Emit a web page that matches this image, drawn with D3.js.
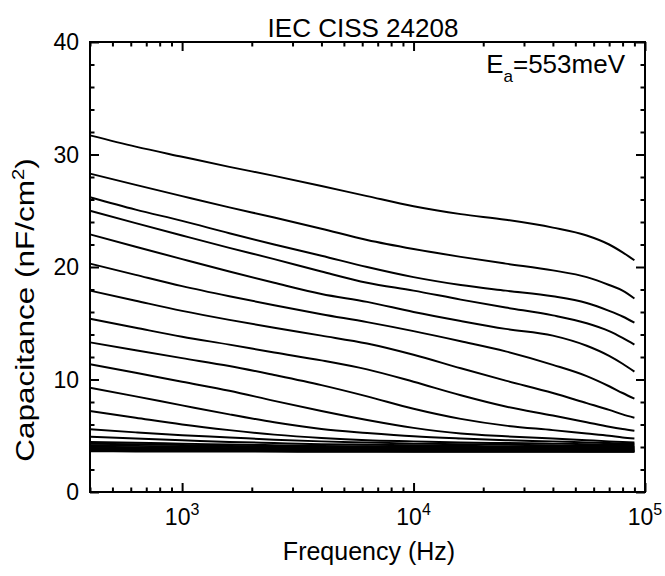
<!DOCTYPE html>
<html>
<head>
<meta charset="utf-8">
<script src="https://cdn.jsdelivr.net/npm/d3@7"></script>
<style>
  body { margin: 0; background: #fff; }
  text { font-family: 'Liberation Sans', Arial, sans-serif; fill: #000; }
</style>
</head>
<body>
<svg id="chart" width="665" height="576"></svg>
<script>
// frequency points (Hz) shared by every curve
const freqHz = [400, 630, 1000, 1600, 2500, 4000, 6300, 10000, 16000, 25000, 40000, 56000, 70000, 80000, 90000]

// capacitance (nF/cm2), one curve per measurement, top to bottom
const curve01 = [31.7, 30.7, 29.8, 28.9, 28.1, 27.2, 26.3, 25.4, 24.7, 24.2, 23.5, 22.8, 22.0, 21.3, 20.6]
const curve02 = [28.3, 27.3, 26.3, 25.3, 24.4, 23.4, 22.4, 21.6, 20.9, 20.3, 19.7, 19.1, 18.4, 17.9, 17.2]
const curve03 = [26.2, 25.1, 24.1, 23.0, 22.0, 21.0, 20.0, 19.1, 18.4, 17.9, 17.4, 16.8, 16.1, 15.6, 15.05]
const curve04 = [25.0, 23.9, 22.8, 21.7, 20.7, 19.6, 18.6, 17.9, 17.1, 16.4, 15.7, 15.0, 14.3, 13.7, 13.1]
const curve05 = [22.9, 21.8, 20.7, 19.6, 18.6, 17.6, 16.9, 16.0, 15.2, 14.5, 13.9, 13.0, 12.1, 11.4, 10.7]
const curve06 = [20.3, 19.3, 18.3, 17.4, 16.6, 15.8, 15.1, 14.3, 13.4, 12.5, 11.3, 10.3, 9.4, 8.8, 8.3]
const curve07 = [17.9, 17.0, 16.1, 15.3, 14.6, 13.9, 13.2, 12.2, 11.0, 9.9, 8.8, 7.9, 7.3, 6.9, 6.6]
const curve08 = [15.4, 14.6, 13.8, 13.1, 12.4, 11.7, 10.9, 9.8, 8.6, 7.6, 6.8, 6.2, 5.8, 5.6, 5.45]
const curve09 = [13.3, 12.6, 11.9, 11.2, 10.4, 9.5, 8.5, 7.4, 6.5, 5.9, 5.5, 5.2, 5.0, 4.85, 4.75]
const curve10 = [11.35, 10.6, 9.8, 9.0, 8.1, 7.2, 6.4, 5.7, 5.2, 4.95, 4.75, 4.6, 4.5, 4.45, 4.4]
const curve11 = [9.27, 8.5, 7.7, 6.9, 6.2, 5.6, 5.25, 4.95, 4.75, 4.6, 4.5, 4.4, 4.35, 4.3, 4.3]
const curve12 = [7.2, 6.6, 6.0, 5.5, 5.1, 4.8, 4.6, 4.5, 4.4, 4.35, 4.3, 4.25, 4.2, 4.2, 4.2]
const curve13 = [5.57, 5.3, 5.05, 4.85, 4.65, 4.5, 4.4, 4.3, 4.25, 4.2, 4.15, 4.1, 4.1, 4.1, 4.1]
const curve14 = [4.92, 4.75, 4.6, 4.45, 4.35, 4.25, 4.2, 4.15, 4.1, 4.05, 4.05, 4.0, 4.0, 4.0, 4.0]
const curve15 = [4.45, 4.38, 4.3, 4.22, 4.16, 4.1, 4.06, 4.02, 4.0, 3.98, 3.96, 3.95, 3.95, 3.95, 3.95]
const curve16 = [4.3, 4.24, 4.17, 4.1, 4.05, 4.0, 3.97, 3.94, 3.92, 3.9, 3.89, 3.88, 3.88, 3.88, 3.88]
const curve17 = [4.15, 4.1, 4.05, 4.0, 3.96, 3.92, 3.89, 3.87, 3.85, 3.84, 3.83, 3.82, 3.82, 3.82, 3.82]
const curve18 = [4.02, 3.98, 3.94, 3.9, 3.87, 3.84, 3.82, 3.8, 3.79, 3.78, 3.77, 3.77, 3.77, 3.77, 3.77]
const curve19 = [3.92, 3.89, 3.86, 3.83, 3.8, 3.78, 3.76, 3.75, 3.74, 3.73, 3.72, 3.72, 3.72, 3.72, 3.72]
const curve20 = [3.83, 3.8, 3.78, 3.76, 3.74, 3.72, 3.71, 3.7, 3.69, 3.68, 3.68, 3.67, 3.67, 3.67, 3.67]
const curve21 = [3.75, 3.73, 3.71, 3.7, 3.68, 3.67, 3.66, 3.65, 3.65, 3.64, 3.64, 3.63, 3.63, 3.63, 3.63]
const curve22 = [3.68, 3.67, 3.65, 3.64, 3.63, 3.62, 3.62, 3.61, 3.61, 3.6, 3.6, 3.6, 3.6, 3.6, 3.6]
const curve23 = [3.62, 3.61, 3.6, 3.59, 3.59, 3.58, 3.58, 3.58, 3.57, 3.57, 3.57, 3.57, 3.57, 3.57, 3.57]

const curves = [curve01, curve02, curve03, curve04, curve05, curve06, curve07, curve08,
  curve09, curve10, curve11, curve12, curve13, curve14, curve15, curve16, curve17,
  curve18, curve19, curve20, curve21, curve22, curve23]

const xMajorTicks = [1e3, 1e4, 1e5]
const yMajorTicks = [0, 10, 20, 30, 40]
const titleText = 'IEC CISS 24208'

const svg = d3.select('#chart')
const plotLeft = 90
const plotRight = 645
const plotTop = 42
const plotBottom = 492

const x = d3.scaleLog().domain([400, 1e5]).range([plotLeft, plotRight])
const y = d3.scaleLinear().domain([0, 40]).range([plotBottom, plotTop])

const xMinorTicks = x.ticks().filter(function (d) { return xMajorTicks.indexOf(d) < 0 })
const yMinorTicks = d3.range(0, 41, 2).filter(function (d) { return d % 10 !== 0 })

// tick marks only, pointing inward on every side
function styleAxis (g) {
  g.select('.domain').remove()
  g.selectAll('.tick line').attr('stroke', '#000').attr('stroke-width', 2)
  g.selectAll('.tick text').remove()
}

const axes = [
  [d3.axisBottom(x), 'translate(0,' + plotBottom + ')', xMajorTicks, xMinorTicks],
  [d3.axisTop(x), 'translate(0,' + plotTop + ')', xMajorTicks, xMinorTicks],
  [d3.axisLeft(y), 'translate(' + plotLeft + ',0)', yMajorTicks, yMinorTicks],
  [d3.axisRight(y), 'translate(' + plotRight + ',0)', yMajorTicks, yMinorTicks]
]
axes.forEach(function (a) {
  [[a[2], 9], [a[3], 4.5]].forEach(function (t) {
    svg.append('g')
      .attr('transform', a[1])
      .call(a[0].tickValues(t[0]).tickSizeInner(-t[1]).tickSizeOuter(0).tickFormat(''))
      .call(styleAxis)
  })
})

// curves
const line = d3.line()
  .x(function (d) { return x(d[0]) })
  .y(function (d) { return y(d[1]) })
  .curve(d3.curveMonotoneX)

svg.append('g')
  .selectAll('path')
  .data(curves)
  .enter()
  .append('path')
  .attr('d', function (vals) { return line(freqHz.map(function (f, i) { return [f, vals[i]] })) })
  .attr('fill', 'none')
  .attr('stroke', '#000')
  .attr('stroke-width', 2)

// frame
svg.append('rect')
  .attr('x', plotLeft)
  .attr('y', plotTop)
  .attr('width', plotRight - plotLeft)
  .attr('height', plotBottom - plotTop)
  .attr('fill', 'none')
  .attr('stroke', '#000')
  .attr('stroke-width', 2)

// x tick labels 10^n
const xLab = svg.append('g')
  .selectAll('text')
  .data(xMajorTicks)
  .enter()
  .append('text')
  .attr('x', function (d) { return x(d) })
  .attr('y', 525)
  .attr('text-anchor', 'middle')
  .style('font-size', '23px')
xLab.append('tspan').text('10')
xLab.append('tspan')
  .attr('dy', -10)
  .style('font-size', '16px')
  .text(function (d) { return Math.round(Math.log10(d)) })

// y tick labels
svg.append('g')
  .selectAll('text')
  .data(yMajorTicks)
  .enter()
  .append('text')
  .attr('x', 79)
  .attr('y', function (d) { return y(d) })
  .attr('dy', '0.36em')
  .attr('text-anchor', 'end')
  .style('font-size', '23px')
  .text(function (d) { return d })

// title
svg.append('text')
  .attr('x', 363)
  .attr('y', 37)
  .attr('text-anchor', 'middle')
  .style('font-size', '26px')
  .text(titleText)

// activation energy note
const note = svg.append('text')
  .attr('x', 625)
  .attr('y', 73)
  .attr('text-anchor', 'end')
  .style('font-size', '26px')
note.append('tspan').text('E')
note.append('tspan').attr('dy', 9).style('font-size', '17px').text('a')
note.append('tspan').attr('dy', -9).text('=553meV')

// axis titles
svg.append('text')
  .attr('x', 369)
  .attr('y', 560)
  .attr('text-anchor', 'middle')
  .style('font-size', '25px')
  .text('Frequency (Hz)')

const yTitle = svg.append('text')
  .attr('transform', 'translate(34,310) rotate(-90) scale(1.26,1)')
  .attr('text-anchor', 'middle')
  .style('font-size', '25px')
yTitle.append('tspan').text('Capacitance (nF/cm')
yTitle.append('tspan').attr('dy', -10).style('font-size', '16px').text('2')
yTitle.append('tspan').attr('dy', 10).text(')')
</script>
</body>
</html>
